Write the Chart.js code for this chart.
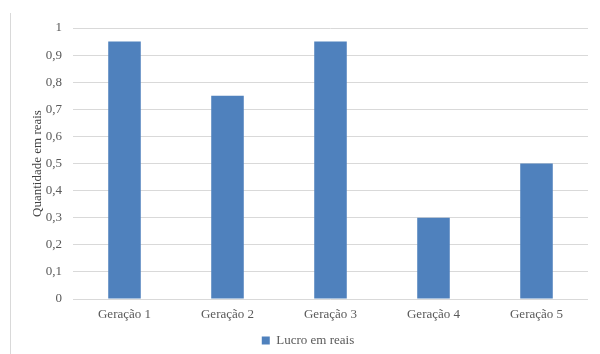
<!DOCTYPE html>
<html>
<head>
<meta charset="utf-8">
<script src="https://cdn.jsdelivr.net/npm/chart.js@4/dist/chart.umd.min.js"></script>
<style>
  html, body { margin: 0; padding: 0; background: #ffffff; }
  #wrap { width: 600px; height: 354px; position: relative; }
</style>
</head>
<body>
<div id="wrap"><canvas id="c" width="600" height="354"></canvas></div>
<script>
// Categories and values
const categories = ['Geração 1', 'Geração 2', 'Geração 3', 'Geração 4', 'Geração 5'];
const lucro = [0.95, 0.75, 0.95, 0.3, 0.5];
const seriesName = 'Lucro em reais';
const yTitle = 'Quantidade em reais';
const yTicks = [0, 0.1, 0.2, 0.3, 0.4, 0.5, 0.6, 0.7, 0.8, 0.9, 1];

Chart.defaults.font.family = 'Liberation Serif';
Chart.defaults.font.size = 13;
Chart.defaults.color = '#595959';

// White background plus a light frame edge on the left side
const frameEdge = {
  id: 'frameEdge',
  beforeDraw(chart) {
    const ctx = chart.ctx;
    ctx.save();
    ctx.fillStyle = '#ffffff';
    ctx.fillRect(0, 0, chart.width, chart.height);
    ctx.strokeStyle = '#d9d9d9';
    ctx.lineWidth = 1;
    ctx.beginPath();
    ctx.moveTo(10.5, 13);
    ctx.lineTo(10.5, chart.height);
    ctx.stroke();
    ctx.restore();
  }
};

// Nudge the legend box a little to the right
const legendShift = {
  id: 'legendShift',
  beforeDraw(chart) {
    const lg = chart.legend;
    if (!lg || lg._nudged) return;
    lg.left += 9;
    lg.right += 9;
    lg._nudged = true;
  }
};

new Chart(document.getElementById('c'), {
  type: 'bar',
  data: {
    labels: categories,
    datasets: [{
      label: seriesName,
      data: lucro,
      backgroundColor: '#4f81bd',
      borderWidth: 0,
      barPercentage: 0.316,
      categoryPercentage: 1
    }]
  },
  options: {
    responsive: false,
    animation: false,
    devicePixelRatio: 1,
    layout: { padding: { left: 10, right: 12, top: 28, bottom: -3 } },
    plugins: {
      legend: {
        position: 'bottom',
        labels: {
          boxWidth: 8,
          boxHeight: 8,
          padding: 2,
          color: '#595959'
        }
      },
      tooltip: { enabled: false }
    },
    scales: {
      x: {
        grid: { display: false, drawTicks: false },
        border: { display: false },
        ticks: { color: '#595959', padding: 8 },
        afterFit(scale) { scale.height = 33; }
      },
      y: {
        min: 0,
        max: 1,
        afterBuildTicks(scale) { scale.ticks = yTicks.map(v => ({ value: v })); },
        grid: { color: '#d9d9d9', lineWidth: 1, drawTicks: false },
        border: { display: false },
        ticks: {
          color: '#595959',
          padding: 11,
          callback: v => String(Math.round(v * 10) / 10).replace('.', ',')
        },
        title: {
          display: true,
          text: yTitle,
          color: '#404040',
          padding: { top: 20, bottom: 0 }
        },
        afterFit(scale) { scale.width = 63; }
      }
    }
  },
  plugins: [frameEdge, legendShift]
});
</script>
</body>
</html>
